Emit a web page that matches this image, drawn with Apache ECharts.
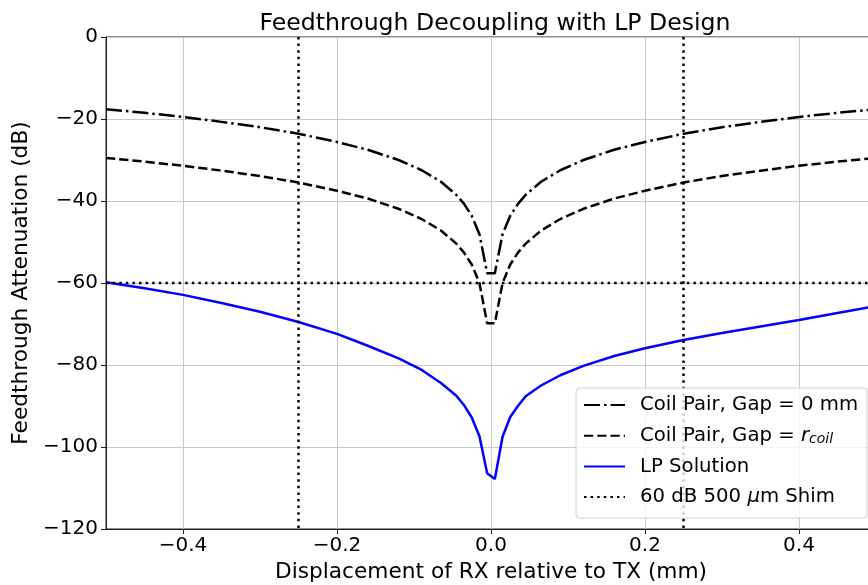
<!DOCTYPE html>
<html>
<head>
<meta charset="utf-8">
<script src="https://cdn.jsdelivr.net/npm/echarts@6/dist/echarts.min.js"></script>
<style>
html,body{margin:0;padding:0;background:#fff;}
#chart{width:868px;height:585px;}
</style>
</head>
<body>
<div id="chart"></div>
<script>
// Displacement samples (mm)
const xVals = [-0.5, -0.45, -0.4, -0.35, -0.3, -0.25, -0.2, -0.16, -0.12, -0.09, -0.065, -0.045, -0.035, -0.025, -0.015, -0.005,
               0.005, 0.015, 0.025, 0.035, 0.045, 0.065, 0.09, 0.12, 0.16, 0.2, 0.25, 0.3, 0.35, 0.4, 0.45, 0.5];
// Coil Pair, Gap = 0 mm (dB)
const gapZero = [-17.6, -18.5, -19.5, -20.7, -22.0, -23.6, -25.6, -27.5, -30.0, -32.5, -35.3, -38.5, -40.7, -43.6, -48.1, -57.6,
                 -57.6, -48.1, -43.6, -40.7, -38.5, -35.3, -32.5, -30.0, -27.5, -25.6, -23.6, -22.0, -20.7, -19.5, -18.5, -17.6];
// Coil Pair, Gap = r_coil (dB)
const gapRcoil = [-29.5, -30.4, -31.4, -32.6, -33.9, -35.5, -37.5, -39.4, -41.9, -44.4, -47.2, -50.4, -52.6, -55.5, -60.0, -69.8,
                  -69.8, -60.0, -55.5, -52.6, -50.4, -47.2, -44.4, -41.9, -39.4, -37.5, -35.5, -33.9, -32.6, -31.4, -30.4, -29.5];
// LP Solution (dB)
const lpSolution = [-59.8, -61.3, -62.9, -64.9, -67.0, -69.5, -72.4, -75.3, -78.4, -81.2, -84.4, -87.5, -89.8, -92.8, -97.4, -106.4,
                    -107.8, -97.5, -92.7, -90.0, -87.6, -85.0, -82.5, -80.2, -77.8, -75.9, -73.9, -72.2, -70.6, -69.0, -67.3, -65.6];
// 60 dB 500 um shim reference
const shimLevel = -60;
const shimEdges = [-0.25, 0.25];
const xRange = [-0.5, 0.5];
const yRange = [-120, 0];
const xTicks = [-0.4, -0.2, 0, 0.2, 0.4];

const zip = (xs, ys) => xs.map((x, i) => [x, ys[i]]);
const shimData = [
  [xRange[0], shimLevel], [xRange[1], shimLevel], ['-', '-'],
  [shimEdges[0], yRange[1]], [shimEdges[0], yRange[0]], ['-', '-'],
  [shimEdges[1], yRange[1]], [shimEdges[1], yRange[0]]
];

const FONT = 'DejaVu Sans';
const minus = s => String(s).replace('-', '\u2212');
const LW = 2.5;

const chart = echarts.init(document.getElementById('chart'), null, {renderer: 'canvas'});
chart.setOption({
  animation: false,
  backgroundColor: '#fff',
  textStyle: {fontFamily: FONT},
  title: {
    text: 'Feedthrough Decoupling with LP Design',
    left: 490, top: 7, textAlign: 'center',
    textStyle: {fontFamily: FONT, fontSize: 23.6, fontWeight: 'normal', color: '#000'}
  },
  grid: {left: 106, right: -8, top: 37, bottom: 56, outerBoundsMode: 'none', containLabel: false,
         show: true, borderColor: '#222', borderWidth: 1, backgroundColor: 'transparent'},
  xAxis: {
    type: 'value', min: xRange[0], max: xRange[1],
    name: 'Displacement of RX relative to TX (mm)', nameLocation: 'middle', nameGap: 27,
    nameTextStyle: {fontFamily: FONT, fontSize: 21.7, color: '#000'},
    axisLine: {show: true, onZero: false, lineStyle: {color: '#222', width: 1}},
    axisTick: {show: true, inside: false, length: 5, customValues: xTicks, lineStyle: {color: '#222'}},
    axisLabel: {customValues: xTicks, margin: 7, fontFamily: FONT, fontSize: 20, color: '#000',
                formatter: v => minus(Number(v).toFixed(1))},
    splitLine: {show: true, customValues: xTicks, lineStyle: {color: '#c8c8c8', width: 1}}
  },
  yAxis: {
    type: 'value', min: yRange[0], max: yRange[1], interval: 20,
    name: 'Feedthrough Attenuation (dB)', nameLocation: 'middle', nameGap: 67,
    nameTextStyle: {fontFamily: FONT, fontSize: 21.7, color: '#000'},
    axisLine: {show: true, onZero: false, lineStyle: {color: '#222', width: 1}},
    axisTick: {show: true, inside: false, length: 5, lineStyle: {color: '#222'}},
    axisLabel: {margin: 8, fontFamily: FONT, fontSize: 20, color: '#000', formatter: v => minus(v)},
    splitLine: {show: true, lineStyle: {color: '#c8c8c8', width: 1}}
  },
  legend: {
    orient: 'vertical', left: 576, top: 388,
    padding: [6, 9, 10, 7], itemGap: 8.7, itemWidth: 41, itemHeight: 12,
    backgroundColor: 'rgba(255,255,255,0.8)', borderColor: '#d0d0d0', borderWidth: 1, borderRadius: 4,
    itemStyle: {color: 'rgba(0,0,0,0)', borderWidth: 0, opacity: 0},
    data: ['Coil Pair, Gap = 0 mm', 'Coil Pair, Gap = r_coil', 'LP Solution', '60 dB 500 um Shim'],
    formatter: function (name) {
      if (name === 'Coil Pair, Gap = r_coil') return '{n|Coil Pair, Gap = }{i|r}{s|coil}';
      if (name === '60 dB 500 um Shim') return '{n|60 dB 500 }{i|\u03bc}{n|m Shim}';
      return '{n|' + name + '}';
    },
    textStyle: {
      fontFamily: FONT, fontSize: 19.7, color: '#000', lineHeight: 22, padding: [0, 0, 0, 10],
      rich: {
        n: {fontFamily: FONT, fontSize: 19.7, color: '#000', lineHeight: 22},
        i: {fontFamily: FONT, fontSize: 19.7, fontStyle: 'italic', color: '#000', lineHeight: 22},
        s: {fontFamily: FONT, fontSize: 14, fontStyle: 'italic', color: '#000', lineHeight: 14, verticalAlign: 'bottom'}
      }
    }
  },
  series: [
    {
      name: 'Coil Pair, Gap = 0 mm', type: 'line', data: zip(xVals, gapZero),
      showSymbol: false, symbol: 'none', z: 3,
      lineStyle: {color: '#000', width: LW, type: [16, 4, 2.5, 4]}, itemStyle: {color: '#000'}
    },
    {
      name: 'Coil Pair, Gap = r_coil', type: 'line', data: zip(xVals, gapRcoil),
      showSymbol: false, symbol: 'none', z: 3,
      lineStyle: {color: '#000', width: LW, type: [9.25, 4]}, itemStyle: {color: '#000'}
    },
    {
      name: 'LP Solution', type: 'line', data: zip(xVals, lpSolution),
      showSymbol: false, symbol: 'none', z: 3,
      lineStyle: {color: '#0000ff', width: LW}, itemStyle: {color: '#0000ff'}
    },
    {
      name: '60 dB 500 um Shim', type: 'line', data: shimData, connectNulls: false,
      showSymbol: false, symbol: 'none', z: 3, clip: true,
      lineStyle: {color: '#000', width: LW, type: [2.5, 4.1], cap: 'butt'}, itemStyle: {color: '#000'}
    }
  ]
});
</script>
</body>
</html>
